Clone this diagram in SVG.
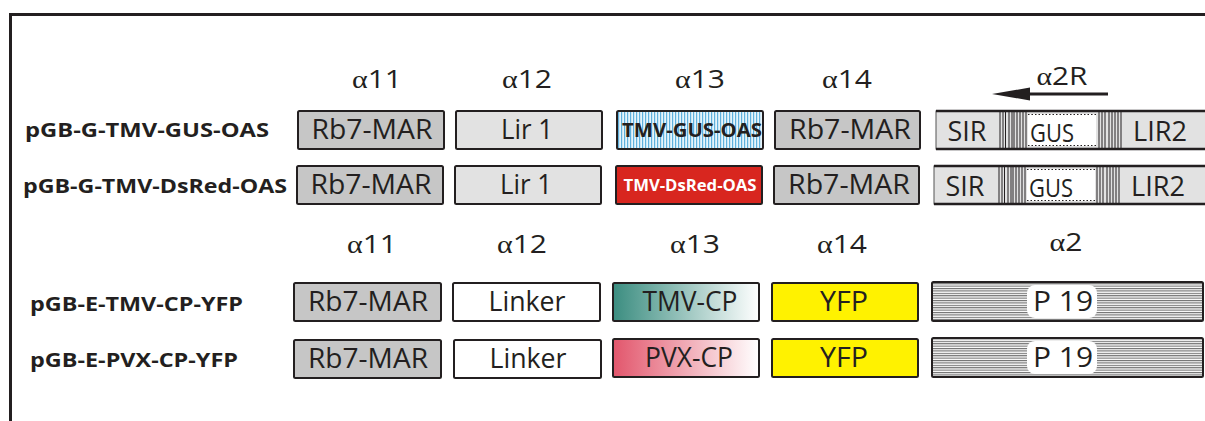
<svg xmlns="http://www.w3.org/2000/svg" width="1205" height="421" viewBox="0 0 1205 421">
<defs>
<style>
.frame{fill:none;stroke:#231f20;stroke-width:3}
.lbl{font-family:"Open Sans","Liberation Sans",sans-serif;font-weight:bold;fill:#231f20}
.hdr{font-family:"Open Sans","Liberation Sans",sans-serif;font-size:26px;fill:#231f20;text-anchor:middle}
.alpha{font-family:"Liberation Serif",serif}
.box{stroke:#231f20;stroke-width:2}
.t{font-family:"Open Sans","Liberation Sans",sans-serif;font-size:27px;fill:#231f20;text-anchor:middle}
.tb{font-family:"Open Sans","Liberation Sans",sans-serif;font-weight:bold;text-anchor:middle}
.gus{font-family:"Open Sans","Liberation Sans",sans-serif;font-size:26px;fill:#231f20;text-anchor:middle}
.dark{fill:#c6c6c6}
.light{fill:#e2e2e2}
.white{fill:#ffffff}
.yfp{fill:#fff200}
.hatch{stroke:#231f20;stroke-width:1}
</style>
<pattern id="blueStripe" patternUnits="userSpaceOnUse" width="3" height="10">
<rect width="3" height="10" fill="#e6f4fb"/>
<rect x="0" width="1.2" height="10" fill="#5fb0dc"/>
</pattern>
<pattern id="grayStripe" patternUnits="userSpaceOnUse" width="10" height="2.4">
<rect width="10" height="2.4" fill="#ffffff"/>
<rect y="0" width="10" height="1.1" fill="#6d6d6d"/>
</pattern>
<linearGradient id="teal" x1="0" y1="0" x2="1" y2="0">
<stop offset="0" stop-color="#3b8d80"/>
<stop offset="1" stop-color="#ffffff"/>
</linearGradient>
<linearGradient id="pink" x1="0" y1="0" x2="1" y2="0">
<stop offset="0" stop-color="#e2566c"/>
<stop offset="1" stop-color="#ffffff"/>
</linearGradient>
</defs>
<rect width="1205" height="421" fill="#ffffff"/>
<path class="frame" d="M10.5,421 V14.5 H1205"/>

<g id="headers1">
<text class="hdr" x="377" y="88" textLength="50" lengthAdjust="spacingAndGlyphs"><tspan class="alpha">α</tspan>11</text>
<text class="hdr" x="527" y="88" textLength="50" lengthAdjust="spacingAndGlyphs"><tspan class="alpha">α</tspan>12</text>
<text class="hdr" x="700" y="88" textLength="50" lengthAdjust="spacingAndGlyphs"><tspan class="alpha">α</tspan>13</text>
<text class="hdr" x="847" y="88" textLength="50" lengthAdjust="spacingAndGlyphs"><tspan class="alpha">α</tspan>14</text>
<text class="hdr" x="1062" y="85" textLength="51" lengthAdjust="spacingAndGlyphs"><tspan class="alpha">α</tspan>2R</text>
</g>
<g id="connectors">
<line x1="1108" y1="94" x2="1025" y2="94" stroke="#231f20" stroke-width="3.2"/>
<polygon points="992,94 1030,87.5 1030,100.5" fill="#231f20"/>
</g>
<g id="headers2">
<text class="hdr" x="372" y="253" textLength="50" lengthAdjust="spacingAndGlyphs"><tspan class="alpha">α</tspan>11</text>
<text class="hdr" x="522" y="253" textLength="50" lengthAdjust="spacingAndGlyphs"><tspan class="alpha">α</tspan>12</text>
<text class="hdr" x="695" y="253" textLength="50" lengthAdjust="spacingAndGlyphs"><tspan class="alpha">α</tspan>13</text>
<text class="hdr" x="842" y="253" textLength="50" lengthAdjust="spacingAndGlyphs"><tspan class="alpha">α</tspan>14</text>
<text class="hdr" x="1066" y="251" textLength="33" lengthAdjust="spacingAndGlyphs"><tspan class="alpha">α</tspan>2</text>
</g>

<g id="labels">
<text class="lbl" x="25" y="137" font-size="20" textLength="244" lengthAdjust="spacingAndGlyphs">pGB-G-TMV-GUS-OAS</text>
<text class="lbl" x="23" y="193" font-size="20" textLength="264" lengthAdjust="spacingAndGlyphs">pGB-G-TMV-DsRed-OAS</text>
<text class="lbl" x="30" y="311" font-size="19" textLength="213" lengthAdjust="spacingAndGlyphs">pGB-E-TMV-CP-YFP</text>
<text class="lbl" x="30" y="367" font-size="19" textLength="208" lengthAdjust="spacingAndGlyphs">pGB-E-PVX-CP-YFP</text>
</g>

<!-- Row 1 -->
<g id="r1c1"><rect class="box dark" x="298" y="111" width="146" height="38" rx="1.5"/><text class="t" x="372" y="139" textLength="121" lengthAdjust="spacingAndGlyphs">Rb7-MAR</text></g>
<g id="r1c2"><rect class="box light" x="456" y="111" width="146" height="38" rx="1.5"/><text class="t" x="527" y="139" textLength="52" lengthAdjust="spacingAndGlyphs">Lir 1</text></g>
<g id="r1c3"><rect class="box" fill="url(#blueStripe)" x="617" y="111" width="146" height="38" rx="1.5"/><text class="tb" x="692" y="137" style="font-size:20px;fill:#231f20" textLength="140" lengthAdjust="spacingAndGlyphs">TMV-GUS-OAS</text></g>
<g id="r1c4"><rect class="box dark" x="775" y="111" width="145" height="38" rx="1.5"/><text class="t" x="850" y="139" textLength="122" lengthAdjust="spacingAndGlyphs">Rb7-MAR</text></g>
<g id="r1c5">
<rect x="936" y="111" width="275" height="38" fill="#e2e2e2" stroke="#555" stroke-width="1"/>
<path class="hatch" d="M1000,112V148M1003,112V148M1005.5,112V148M1009,112V148M1012,112V148M1014,112V148M1017,112V148M1020,112V148M1023,112V148M1026,112V148M1099,112V148M1102,112V148M1105,112V148M1109,112V148M1112,112V148M1115,112V148M1118,112V148M1121,112V148"/>
<rect x="1028" y="114" width="68" height="32" fill="#ffffff"/>
<path d="M1028,114.5H1096M1028,145.5H1096" stroke="#231f20" stroke-width="1.2" stroke-dasharray="1.5,2"/>
<path d="M936,111H1205M936,149H1205" stroke="#231f20" stroke-width="2.5"/>
<text class="t" x="967" y="141" textLength="39" lengthAdjust="spacingAndGlyphs">SIR</text>
<text class="gus" x="1052" y="142" textLength="44" lengthAdjust="spacingAndGlyphs">GUS</text>
<text class="t" x="1160" y="141" textLength="54" lengthAdjust="spacingAndGlyphs">LIR2</text>
</g>

<!-- Row 2 -->
<g id="r2c1"><rect class="box dark" x="297" y="166" width="146" height="38" rx="1.5"/><text class="t" x="371" y="194" textLength="121" lengthAdjust="spacingAndGlyphs">Rb7-MAR</text></g>
<g id="r2c2"><rect class="box light" x="455" y="166" width="146" height="38" rx="1.5"/><text class="t" x="526" y="194" textLength="52" lengthAdjust="spacingAndGlyphs">Lir 1</text></g>
<g id="r2c3"><rect class="box" fill="#d8261f" x="616" y="166" width="146" height="38" rx="1.5"/><text class="tb" x="690" y="191" style="font-size:16px;fill:#ffffff" textLength="133" lengthAdjust="spacingAndGlyphs">TMV-DsRed-OAS</text></g>
<g id="r2c4"><rect class="box dark" x="774" y="166" width="145" height="38" rx="1.5"/><text class="t" x="849" y="194" textLength="122" lengthAdjust="spacingAndGlyphs">Rb7-MAR</text></g>
<g id="r2c5">
<rect x="934" y="166" width="275" height="38" fill="#e2e2e2" stroke="#555" stroke-width="1"/>
<path class="hatch" d="M999,167V203M1002,167V203M1004.5,167V203M1008,167V203M1011,167V203M1013,167V203M1016,167V203M1019,167V203M1022,167V203M1025,167V203M1097,167V203M1100,167V203M1103,167V203M1107,167V203M1110,167V203M1113,167V203M1116,167V203M1119,167V203"/>
<rect x="1027" y="169" width="68" height="32" fill="#ffffff"/>
<path d="M1027,169.5H1095M1027,200.5H1095" stroke="#231f20" stroke-width="1.2" stroke-dasharray="1.5,2"/>
<path d="M934,166H1205M934,204H1205" stroke="#231f20" stroke-width="2.5"/>
<text class="t" x="965" y="196" textLength="39" lengthAdjust="spacingAndGlyphs">SIR</text>
<text class="gus" x="1051" y="197" textLength="44" lengthAdjust="spacingAndGlyphs">GUS</text>
<text class="t" x="1158" y="196" textLength="54" lengthAdjust="spacingAndGlyphs">LIR2</text>
</g>

<!-- Row 3 -->
<g id="r3c1"><rect class="box dark" x="294" y="283" width="147" height="38" rx="1.5"/><text class="t" x="368" y="311" textLength="120" lengthAdjust="spacingAndGlyphs">Rb7-MAR</text></g>
<g id="r3c2"><rect class="box white" x="453" y="283" width="147" height="38" rx="1.5"/><text class="t" x="527" y="311" textLength="77" lengthAdjust="spacingAndGlyphs">Linker</text></g>
<g id="r3c3"><rect class="box" fill="url(#teal)" x="613" y="283" width="146" height="38" rx="1.5"/><text class="t" x="690" y="311" textLength="95" lengthAdjust="spacingAndGlyphs">TMV-CP</text></g>
<g id="r3c4"><rect class="box yfp" x="772" y="283" width="146" height="38" rx="1.5"/><text class="t" x="844" y="311" textLength="48" lengthAdjust="spacingAndGlyphs">YFP</text></g>
<g id="r3c5"><rect class="box" fill="url(#grayStripe)" stroke-width="2.5" x="932" y="282" width="271" height="39" rx="1.5"/><rect x="1027" y="285" width="70" height="33" rx="8" fill="#ffffff"/><text class="t" x="1063" y="311" textLength="60" lengthAdjust="spacingAndGlyphs">P 19</text></g>

<!-- Row 4 -->
<g id="r4c1"><rect class="box dark" x="294" y="340" width="147" height="38" rx="1.5"/><text class="t" x="368" y="368" textLength="120" lengthAdjust="spacingAndGlyphs">Rb7-MAR</text></g>
<g id="r4c2"><rect class="box white" x="454" y="340" width="147" height="38" rx="1.5"/><text class="t" x="528" y="368" textLength="77" lengthAdjust="spacingAndGlyphs">Linker</text></g>
<g id="r4c3"><rect class="box" fill="url(#pink)" x="613" y="339" width="146" height="38" rx="1.5"/><text class="t" x="689" y="367" textLength="88" lengthAdjust="spacingAndGlyphs">PVX-CP</text></g>
<g id="r4c4"><rect class="box yfp" x="772" y="339" width="146" height="38" rx="1.5"/><text class="t" x="844" y="367" textLength="48" lengthAdjust="spacingAndGlyphs">YFP</text></g>
<g id="r4c5"><rect class="box" fill="url(#grayStripe)" stroke-width="2.5" x="932" y="338" width="271" height="39" rx="1.5"/><rect x="1027" y="341" width="70" height="33" rx="8" fill="#ffffff"/><text class="t" x="1063" y="367" textLength="60" lengthAdjust="spacingAndGlyphs">P 19</text></g>
</svg>
